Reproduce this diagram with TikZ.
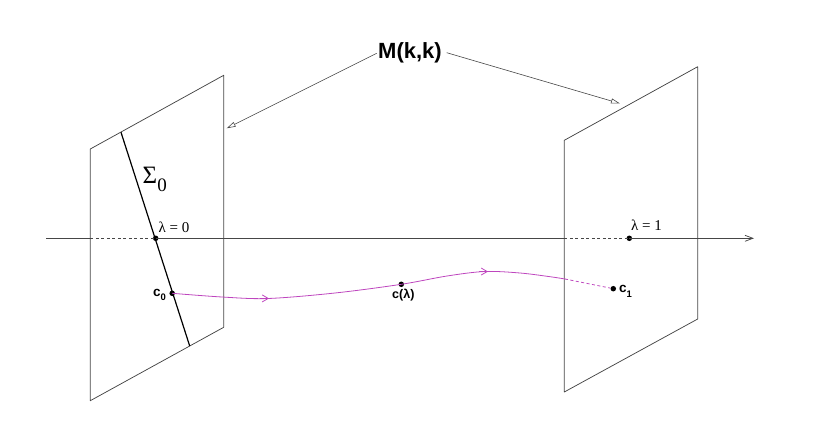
\documentclass[tikz,border=0pt]{standalone}
\usepackage{fontspec}
\setmainfont{Liberation Serif}
\setsansfont{Liberation Sans}
\usetikzlibrary{arrows.meta}
\definecolor{mag}{RGB}{190,70,190}
\definecolor{edge}{RGB}{70,70,70}
\begin{document}
\begin{tikzpicture}[x=1pt,y=-1pt,
  planeline/.style={draw=edge,line width=0.75pt,line join=round},
  axisline/.style={draw=edge,line width=0.75pt},
  dashseg/.style={dash pattern=on 3pt off 2.5pt},
  pt/.style={circle,fill=black,inner sep=0pt,minimum size=5.5pt},
  lab/.style={inner sep=0pt,anchor=base west},
  sanslab/.style={lab,font=\sffamily\bfseries\fontsize{13.5}{13.5}\selectfont},
  seriflab/.style={lab,font=\fontsize{15}{15}\selectfont},
  pointer/.style={draw=edge,line width=0.6pt,-{Triangle[open,length=9pt,width=5pt]}},
  curve/.style={draw=mag,line width=0.8pt}
]
\useasboundingbox (0,0) rectangle (830,430);

% planes
\coordinate (LTL) at (90.3,149);
\coordinate (LTR) at (223.7,75.3);
\coordinate (LBR) at (223.7,327.3);
\coordinate (LBL) at (90.3,400.7);
\coordinate (RTL) at (564.3,140.3);
\coordinate (RTR) at (697.7,66.7);
\coordinate (RBR) at (697.7,319);
\coordinate (RBL) at (564.3,392);
\draw[planeline] (LTL) -- (LTR) -- (LBR) -- (LBL) -- cycle;
\draw[planeline] (RTL) -- (RTR) -- (RBR) -- (RBL) -- cycle;

% Sigma_0 line
\coordinate (S1) at (121,132.3);
\coordinate (S2) at (189.7,346);
\draw[black,line width=1.2pt] (S1) -- (S2);

% points
\node[pt] (p0) at (155.7,238.3) {};
\node[pt] (p1) at (629.3,238.3) {};
\node[pt] (c0) at (172.2,293.3) {};
\node[pt] (cl) at (401.3,284.3) {};
\node[pt] (c1) at (613.3,288.7) {};

% axis
\coordinate (A0) at (46,238.3);
\coordinate (L0) at (90.3,238.3);
\coordinate (R0) at (564.3,238.3);
\coordinate (AE) at (754,238.3);
\draw[axisline] (A0) -- (L0);
\draw[axisline,dashseg] (L0) -- (p0.center);
\draw[axisline] (p0.center) -- (R0);
\draw[axisline,dashseg] (R0) -- (p1.center);
\draw[axisline,-{Straight Barb[length=8pt,width=6pt]}] (p1.center) -- (AE);

% curve c(lambda)
\coordinate (E) at (565,279);
\draw[curve] plot[smooth,tension=0.55] coordinates {(c0.center) (222,297) (268,298.5) (335,293) (cl.center) (447,276) (485,271.5) (520,273) (550,276.7) (E)};
\draw[curve,dashseg] (E) -- (c1);
\coordinate (a1s) at (261,298.4);
\coordinate (a1t) at (269,298.5);
\coordinate (a2s) at (479,271.5);
\coordinate (a2t) at (488,271.6);
\draw[curve,-{Straight Barb[length=6pt,width=7pt]}] (a1s) -- (a1t);
\draw[curve,-{Straight Barb[length=6pt,width=7pt]}] (a2s) -- (a2t);

% labels
\node[lab,font=\sffamily\bfseries\fontsize{22}{22}\selectfont] (M) at (378,58.5) {M(k,k)};
\coordinate (mL) at (376.7,53.3);
\coordinate (mR) at (446.7,52.7);
\coordinate (tL) at (226.7,128.3);
\coordinate (tR) at (620,103.5);
\draw[pointer] (mL) -- (tL);
\draw[pointer] (mR) -- (tR);

\node[lab,font=\fontsize{25}{25}\selectfont] (sig) at (142.5,184) {Σ\raisebox{-8pt}{\fontsize{19}{19}\selectfont 0}};
\node[seriflab] (l0) at (158.5,232.5) {λ = 0};
\node[seriflab] (l1) at (631,231) {λ = 1};
\node[sanslab] (tc0) at (153,296.7) {c\raisebox{-4pt}{\fontsize{9.5}{9.5}\selectfont 0}};
\node[lab,font=\sffamily\bfseries\fontsize{12.5}{12.5}\selectfont] (tcl) at (392,299) {c(λ)};
\node[sanslab] (tc1) at (619,292.7) {c\raisebox{-5pt}{\fontsize{9.5}{9.5}\selectfont 1}};
\end{tikzpicture}
\end{document}
